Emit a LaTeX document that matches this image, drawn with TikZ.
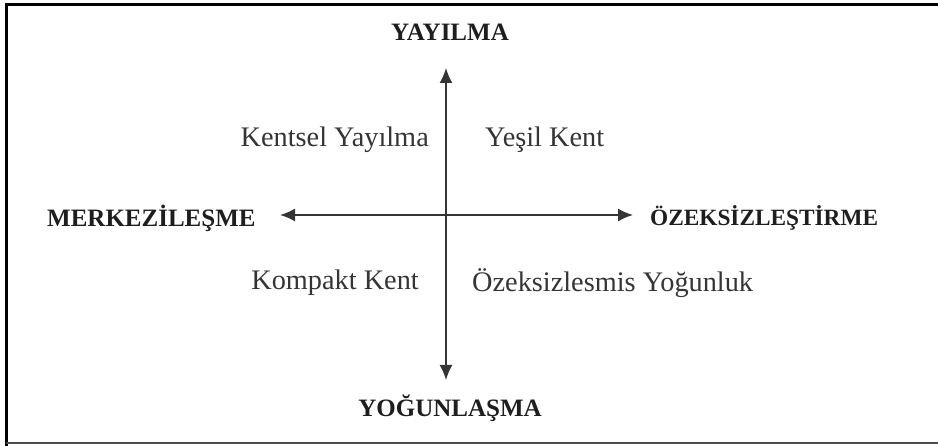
\documentclass[tikz,border=0pt]{standalone}
\usepackage{fontspec}
\setmainfont{Liberation Serif}
\usetikzlibrary{arrows.meta}
\definecolor{ink}{HTML}{1E1E1E}
\tikzset{
  axis/.style={draw=ink!90, line width=1.8pt, -{Latex[length=15pt,width=13pt]}},
  pole/.style={font=\fontsize{25}{28}\selectfont\bfseries, text=ink, inner sep=0pt},
  quad/.style={font=\fontsize{28.3}{30}\selectfont, text=ink!90, inner sep=0pt},
}
\begin{document}
\begin{tikzpicture}[x=1pt,y=-1pt]
\useasboundingbox (0,0) rectangle (938,446);
\fill[white] (0,0) rectangle (938,446);
\draw[line width=3pt, black] (6,446) -- (6,4.5) -- (938,4.5);
\draw[line width=2pt, black!70] (6,443) -- (938,443);
\coordinate (c) at (446,215);
\coordinate (top) at (446,68);
\coordinate (bot) at (446,380);
\coordinate (lft) at (280,215);
\coordinate (rgt) at (633,215);
\draw[axis] (c) -- (top);
\draw[axis] (c) -- (bot);
\draw[axis] (c) -- (lft);
\draw[axis] (c) -- (rgt);
\node[pole] (yay) at (450,32) {YAYILMA};
\node[pole] (yog) at (450,408) {YOĞUNLAŞMA};
\node[pole, anchor=west] (mer) at (47,218) {MERKEZİLEŞME};
\node[pole, anchor=west, font=\fontsize{23.3}{28}\selectfont\bfseries] (oze) at (650,218) {ÖZEKSİZLEŞTİRME};
\node[quad, anchor=east] (ky) at (429,140) {Kentsel Yayılma};
\node[quad, anchor=west] (yk) at (485,140) {Yeşil Kent};
\node[quad, anchor=east] (kk) at (419,283) {Kompakt Kent};
\node[quad, anchor=west] (oy) at (472,283) {Özeksizlesmis Yoğunluk};
\end{tikzpicture}
\end{document}
